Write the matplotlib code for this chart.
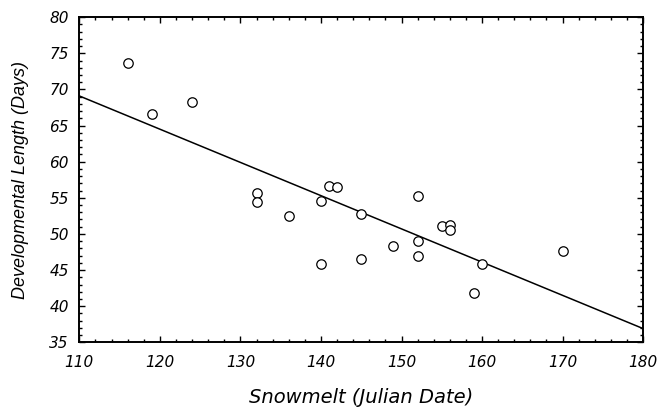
import numpy as np
import matplotlib
matplotlib.use("Agg")
import matplotlib.pyplot as plt
from matplotlib.ticker import MultipleLocator

# snowmelt date (julian) vs developmental length (days)
snowmelt = [116, 119, 124, 132, 132, 136, 140, 140, 141, 142, 145, 145,
            149, 152, 152, 152, 155, 156, 156, 159, 160, 170]
dev_length = [73.7, 66.6, 68.3, 55.6, 54.4, 52.5, 54.6, 45.9, 56.7, 56.5, 52.7, 46.5,
              48.4, 55.3, 49.0, 47.0, 51.1, 51.2, 50.5, 41.8, 45.9, 47.6]

# regression line end points
fit_x = [110, 180]
fit_y = [69.1, 36.9]

plt.rcParams['font.family'] = ['DejaVu Sans']

fig = plt.figure(figsize=(6.61, 4.09), dpi=100)
ax = fig.add_axes([0.12, 0.163, 0.853, 0.795])

ax.plot(fit_x, fit_y, color='black', lw=1.1)
ax.plot(snowmelt, dev_length, 'o', mfc='white', mec='black', ms=6.8, mew=0.9)

ax.set_xlim(110, 180)
ax.set_ylim(35, 80)
ax.xaxis.set_major_locator(MultipleLocator(10))
ax.xaxis.set_minor_locator(MultipleLocator(2))
ax.yaxis.set_major_locator(MultipleLocator(5))
ax.yaxis.set_minor_locator(MultipleLocator(1))

ax.tick_params(which='both', direction='in', top=True, right=True, width=1)
ax.tick_params(which='major', length=4.5, labelsize=11)
ax.tick_params(which='minor', length=2.5)
ax.tick_params(axis='x', which='major', pad=9)
ax.tick_params(axis='y', which='major', pad=7.5)
for lab in ax.get_xticklabels() + ax.get_yticklabels():
    lab.set_fontstyle('italic')

for sp in ax.spines.values():
    sp.set_linewidth(1.4)

ax.set_xlabel("Snowmelt (Julian Date)", fontsize=14, style='italic', labelpad=13)
ax.set_ylabel("Developmental Length (Days)", fontsize=13, style='italic',
              family=['Liberation Sans', 'DejaVu Sans'], labelpad=15)

fig.savefig("out.png", dpi=100)
